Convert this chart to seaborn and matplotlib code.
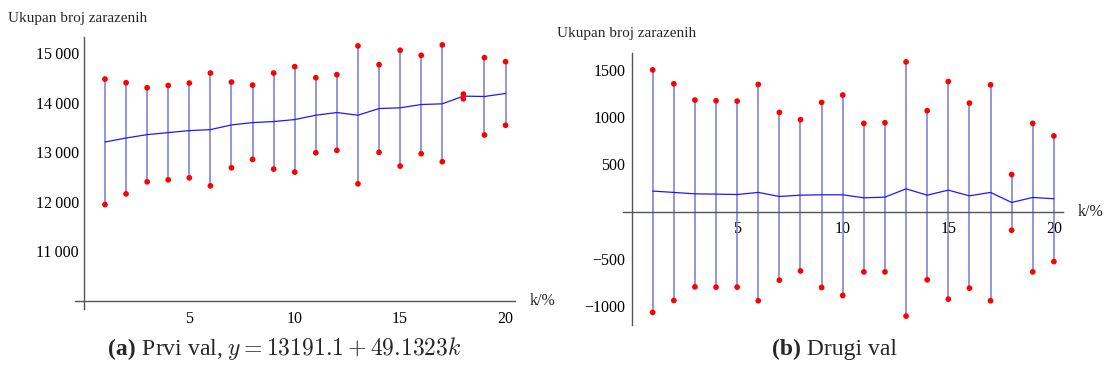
import numpy as np
import pandas as pd
import matplotlib
matplotlib.use('Agg')
import matplotlib.pyplot as plt
import matplotlib.ticker as mticker
import seaborn as sns

# k in percent
k = list(range(1, 21))

# first wave (a)
val1_high = [14480, 14405, 14304, 14351, 14399, 14601, 14419, 14358, 14601, 14730,
             14507, 14568, 15149, 14770, 15061, 14959, 15169, 14176, 14912, 14831]
val1_low = [11946, 12162, 12405, 12446, 12486, 12324, 12689, 12858, 12662, 12601,
            12993, 13041, 12365, 13000, 12723, 12973, 12811, 14081, 13351, 13547]
val1_mid = [13209, 13290, 13358, 13399, 13439, 13459, 13554, 13601, 13622, 13662,
            13750, 13804, 13750, 13885, 13899, 13966, 13980, 14135, 14128, 14189]

# second wave (b)
val2_high = [1498, 1351, 1179, 1172, 1168, 1344, 1049, 972, 1154, 1232,
             933, 940, 1582, 1067, 1375, 1147, 1340, 393, 933, 800]
val2_low = [-1063, -937, -793, -796, -796, -940, -723, -625, -800, -884,
            -635, -635, -1102, -719, -923, -807, -940, -196, -635, -526]
val2_mid = [218, 204, 189, 186, 182, 204, 161, 175, 179, 179,
            147, 154, 242, 175, 228, 168, 204, 98, 151, 137]

ylabel = 'Ukupan broj zarazenih'
xlabel = 'k/%'

sns.set_style('white')
plt.rcParams['font.family'] = ['Liberation Serif', 'DejaVu Serif']
plt.rcParams['mathtext.fontset'] = 'cm'

STEM = '#7878d4'
AXC = '#555555'


def draw_panel(ax, high, low, mid, origin, ylim, major_y, minor_y, fmt, pad):
    df = pd.DataFrame({'k': k, 'high': high, 'low': low, 'mid': mid})
    ax.vlines(df['k'], df['low'], df['high'], color=STEM, lw=1.1, zorder=1)
    sns.lineplot(data=df, x='k', y='mid', ax=ax, color='#1a1aff', lw=0.9, zorder=2)
    sns.scatterplot(data=df, x='k', y='high', ax=ax, color='red', s=17,
                    edgecolor='none', zorder=3)
    sns.scatterplot(data=df, x='k', y='low', ax=ax, color='red', s=17,
                    edgecolor='none', zorder=3)
    ax.set_xlim(-0.42, 20.45)
    ax.set_ylim(*ylim)
    ax.set_xlabel('')
    ax.set_ylabel('')
    for s in ['top', 'right']:
        ax.spines[s].set_visible(False)
    ax.spines['left'].set_position(('data', 0))
    ax.spines['bottom'].set_position(('data', origin))
    for s in ['left', 'bottom']:
        ax.spines[s].set_color(AXC)
        ax.spines[s].set_linewidth(1.0)
    ax.set_xticks([5, 10, 15, 20])
    ax.set_xticks([i for i in k if i % 5], minor=True)
    ax.set_yticks(major_y)
    ax.set_yticks(minor_y, minor=True)
    ax.yaxis.set_major_formatter(mticker.FuncFormatter(fmt))
    ax.tick_params(which='major', direction='in', length=5, width=0.9, color=AXC,
                   labelsize=11.5, labelcolor='black')
    ax.tick_params(which='minor', direction='in', length=3, width=0.8, color=AXC)
    ax.tick_params(axis='x', which='major', pad=7)
    ax.tick_params(axis='y', which='major', pad=pad)
    ax.set_facecolor('none')


fig = plt.figure(figsize=(11.1, 3.74), dpi=100)
ax1 = fig.add_axes([0.0676, 0.173, 0.3964, 0.7273])
ax2 = fig.add_axes([0.561, 0.131, 0.397, 0.7265])


def fmt_thousands(v, _):
    return f'{int(round(v)):,}'.replace(',', '\u2009')


def fmt_plain(v, _):
    return f'{int(round(v))}'.replace('-', '\u2212')


draw_panel(ax1, val1_high, val1_low, val1_mid, 10000, (9832, 15323),
           [11000, 12000, 13000, 14000, 15000],
           [v for v in range(10200, 15400, 200) if v % 1000], fmt_thousands, 3.5)
draw_panel(ax2, val2_high, val2_low, val2_mid, 0, (-1196, 1673),
           [-1000, -500, 500, 1000, 1500],
           [v for v in range(-1100, 1700, 100) if v % 500], fmt_plain, 4.5)

W, H = 1110, 374
fig.text(8 / W, 1 - 22 / H, ylabel, fontsize=11, va='baseline', ha='left')
fig.text(557 / W, 1 - 37 / H, ylabel, fontsize=11, va='baseline', ha='left')
fig.text(530 / W, 1 - 301 / H, xlabel, fontsize=11.5, va='center', ha='left')
fig.text(1078 / W, 1 - 212 / H, xlabel, fontsize=11.5, va='center', ha='left')

# captions
cap_y = 1 - 355 / H
fig.canvas.draw()
ta = fig.text(108 / W, cap_y, '(a)', fontsize=17, fontweight='bold', va='baseline')
fig.canvas.draw()
x1 = ta.get_window_extent().x1 / W
fig.text(x1, cap_y, ' Prvi val, $y = 13191.1 + 49.1323k$', fontsize=17, va='baseline')
tb = fig.text(772 / W, cap_y, '(b)', fontsize=17, fontweight='bold', va='baseline')
fig.canvas.draw()
x2 = tb.get_window_extent().x1 / W
fig.text(x2, cap_y, ' Drugi val', fontsize=17, va='baseline')

fig.savefig('out.png', dpi=100)
